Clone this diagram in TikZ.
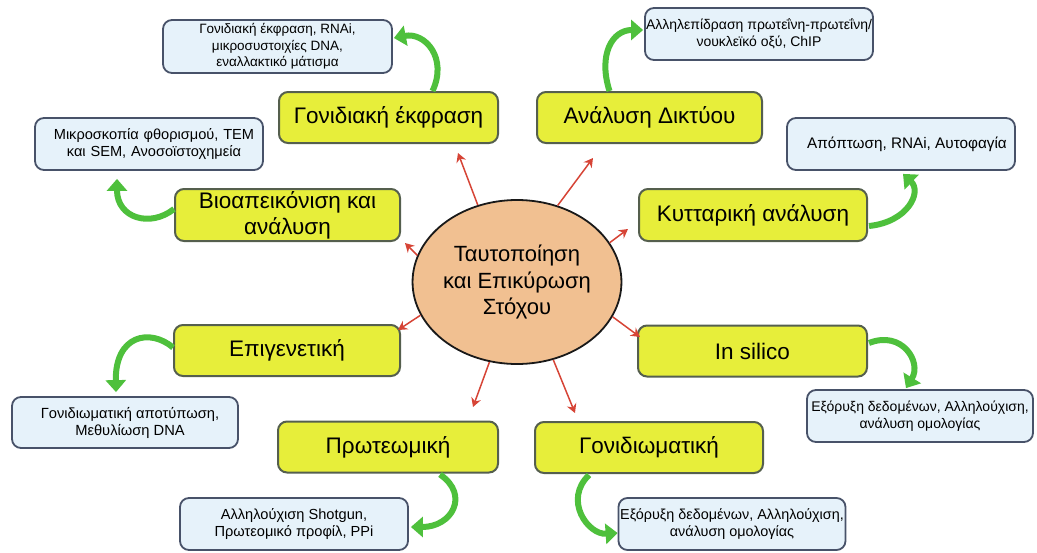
\documentclass[tikz,border=0pt]{standalone}
\usepackage{fontspec}
\setmainfont{Liberation Sans}
\usetikzlibrary{shapes.geometric,arrows.meta,calc}
\definecolor{yfill}{RGB}{231,238,58}
\definecolor{ybord}{RGB}{85,95,78}
\definecolor{bfill}{RGB}{230,242,250}
\definecolor{bbord}{RGB}{72,82,105}
\definecolor{cfill}{RGB}{241,192,145}
\definecolor{cbord}{RGB}{25,25,25}
\definecolor{redc}{RGB}{214,68,54}
\definecolor{greenc}{RGB}{78,192,60}
\newcommand{\fs}[1]{\fontsize{#1}{17}\selectfont}
\begin{document}
\begin{tikzpicture}[x=1pt,y=-1pt,
  mainbox/.style={draw=ybord, fill=yfill, line width=2pt, rounded corners=9pt,
    minimum height=51pt, inner sep=0pt, align=center,
    font=\fontsize{22.5}{26}\selectfont},
  detailbox/.style={draw=bbord, fill=bfill, line width=1.8pt, rounded corners=9pt,
    minimum width=228pt, minimum height=52pt, inner sep=0pt, align=center},
  redarrow/.style={draw=redc, line width=1.5pt, -{Stealth[length=9pt,width=10pt,inset=3pt]}},
  greenarrow/.style={draw=greenc, line width=6pt, -{Triangle[length=12pt,width=20pt]}}
]
\useasboundingbox (0,0) rectangle (1037,552);

% main boxes
\node[mainbox, minimum width=219pt] (ge) at (388.5,117.5) {Γονιδιακή έκφραση};
\node[mainbox, minimum width=225pt] (ad) at (649.5,117.5) {Ανάλυση Δικτύου};
\node[mainbox, minimum width=225pt, minimum height=52pt] (bi) at (287.5,215) {Βιοαπεικόνιση και\\ανάλυση};
\node[mainbox, minimum width=228pt, minimum height=52pt] (ka) at (753,215) {Κυτταρική ανάλυση};
\node[mainbox, minimum width=226pt] (ep) at (287,350.5) {Επιγενετική};
\node[mainbox, minimum width=229pt] (is) at (752.5,351) {In silico};
\node[mainbox, minimum width=220pt] (pr) at (388,447) {Πρωτεωμική};
\node[mainbox, minimum width=228pt] (gn) at (649,447.5) {Γονιδιωματική};

% detail boxes
\node[detailbox, minimum width=229pt, minimum height=53pt, font=\fontsize{13.5}{16.5}\selectfont] (b1) at (277.5,46.5) {Γονιδιακή έκφραση, RNAi,\\μικροσυστοιχίες DNA,\\εναλλακτικό μάτισμα};
\node[detailbox, font=\fs{14}] (b2) at (759,34) {Αλληλεπίδραση πρωτεΐνη-πρωτεΐνη/\\νουκλεϊκό οξύ, ChIP};
\node[detailbox, font=\fs{14.6}, text width=228pt, align=center, xshift=0pt] (b3) at (149,144) {\hspace*{10pt}Μικροσκοπία φθορισμού, TEM\\\hspace*{10pt}και SEM, Ανοσοϊστοχημεία};
\node[detailbox, font=\fs{15.3}] (b4) at (901,144) {\hspace*{12pt}Απόπτωση, RNAi, Αυτοφαγία};
\node[detailbox, minimum width=226pt, minimum height=51pt, font=\fs{14.7}] (b5) at (125,422.5) {\hspace*{10pt}Γονιδιωματική αποτύπωση,\\\hspace*{10pt}Μεθυλίωση DNA};
\node[detailbox, minimum width=226pt, font=\fs{14}] (b6) at (920,416) {Εξόρυξη δεδομένων, Αλληλούχιση,\\ανάλυση ομολογίας};
\node[detailbox, font=\fs{14.6}] (b7) at (294,524) {Αλληλούχιση Shotgun,\\Πρωτεομικό προφίλ, PPi};
\node[detailbox, minimum width=227pt, font=\fs{14.4}] (b8) at (732,524) {Εξόρυξη δεδομένων, Αλληλούχιση,\\ανάλυση ομολογίας};

% centre
\node[ellipse, draw=cbord, fill=cfill, line width=1.8pt, minimum width=186pt,
  minimum height=164pt, inner sep=0pt, align=center,
  font=\fontsize{22}{26.5}\selectfont] (c) at (517,282) {Ταυτοποίηση\\και Επικύρωση\\Στόχου};

% red arrows
\coordinate (t1) at (458,153);
\coordinate (t2) at (593,158);
\coordinate (t3) at (405,243);
\coordinate (t4) at (628,229);
\coordinate (t5) at (398,330);
\coordinate (t6) at (640,337);
\coordinate (t7) at (473,407);
\coordinate (t8) at (575,413);
\draw[redarrow] (c.117.5) -- (t1);
\draw[redarrow] (c.62) -- (t2);
\draw[redarrow] (c.165) -- (t3);
\draw[redarrow] (c.23.4) -- (t4);
\draw[redarrow] (c.199) -- (t5);
\draw[redarrow] (c.340) -- (t6);
\draw[redarrow] (c.251) -- (t7);
\draw[redarrow] (c.295) -- (t8);

% green arrows
\draw[greenarrow] ($(ge.north)+(44,0)$) .. controls (448,58) and (425,32) .. ($(b1.east)+(1,-8.5)$);
\draw[greenarrow] ($(ad.north)+(-40,0)$) .. controls (598,55) and (612,30) .. ($(b2.west)+(-1,-4)$);
\draw[greenarrow] ($(bi.west)+(0,-6)$) .. controls (150,228) and (117,218) .. ($(b3.south)+(-32,8)$);
\draw[greenarrow] ($(ka.east)+(1,11)$) .. controls (908,222) and (922,192) .. ($(b4.south)+(2,3)$);
\draw[greenarrow] ($(ep.west)+(0,-3)$) .. controls (150,328) and (115,335) .. ($(b5.north)+(-9,-4)$);
\draw[greenarrow] ($(is.east)+(1,-8)$) .. controls (902,330) and (922,362) .. ($(b6.north)+(-14,-1)$);
\draw[greenarrow] ($(pr.south)+(52,1)$) .. controls (470,495) and (452,527) .. ($(b7.east)+(2,3)$);
\draw[greenarrow] ($(gn.south)+(-60,1)$) .. controls (563,500) and (588,535) .. ($(b8.west)+(0,9)$);
\end{tikzpicture}
\end{document}
